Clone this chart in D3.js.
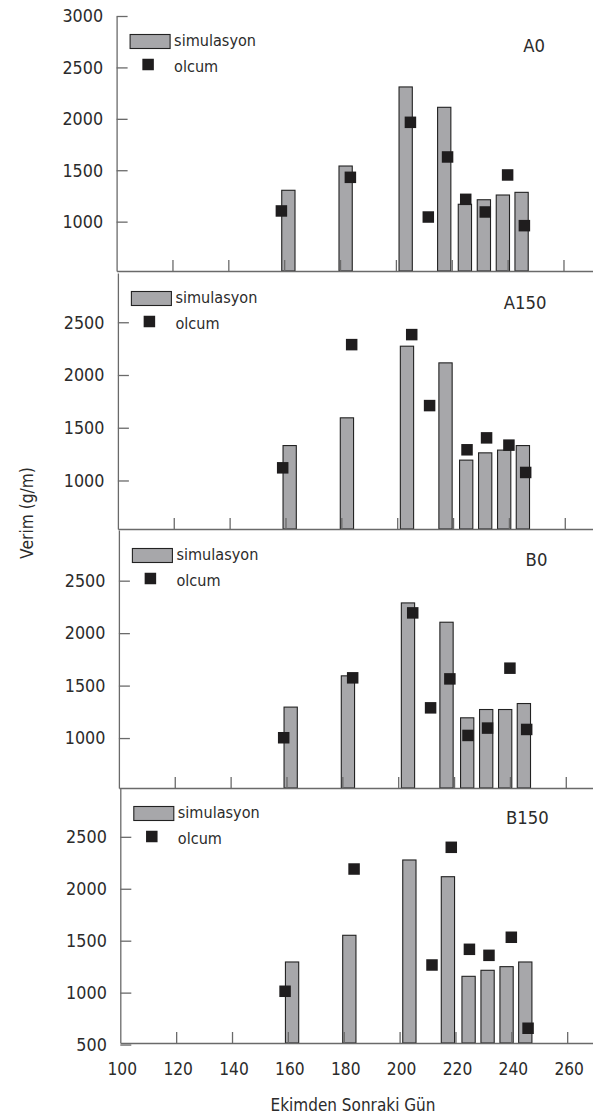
<!DOCTYPE html>
<html><head><meta charset="utf-8">
<script src="https://cdn.jsdelivr.net/npm/d3@7"></script>
<style>body{margin:0;background:#fff} svg{display:block}</style>
</head><body><svg id="c" width="593" height="1118"></svg>
<script>
// ---- data ----
const panelNames = ["A0", "A150", "B0", "B150"];
const xTickValues = [100, 120, 140, 160, 180, 200, 220, 240, 260];
const simDays = [161.5, 182, 203.5, 217.3, 224.7, 231.5, 238.3, 245];
const simA0   = [1305, 1541, 2310, 2112, 1169, 1213, 1259, 1285];
const simA150 = [1331, 1594, 2273, 2115, 1193, 1262, 1288, 1331];
const simB0   = [1295, 1593, 2288, 2104, 1193, 1272, 1272, 1329];
const simB150 = [1295, 1552, 2277, 2116, 1157, 1215, 1250, 1295];
const obsDays = [159, 183.7, 205.2, 211.6, 218.5, 225, 232, 240, 246];
const obsA0   = [1104, 1431, 1966, 1045, 1629, 1217, 1094, 1454, 961];
const obsA150 = [1120, 2288, 2383, 1710, null, 1291, 1404, 1335, 1076];
const obsB0   = [1003, 1574, 2193, 1288, 1564, 1025, 1095, 1666, 1082];
const obsB150 = [1013, 2190, null, 1266, 2399, 1417, 1359, 1533, 657];
const yTicksA0 = [1000, 1500, 2000, 2500, 3000];
const yTicksMid = [1000, 1500, 2000, 2500];
const yTicksB150 = [500, 1000, 1500, 2000, 2500];
const yDomainA0 = [520, 3000];
const yDomainA150 = [540, 2967];
const yDomainB0 = [524, 2983];
const yDomainB150 = [515, 2970];
const legendLabels = ["simulasyon", "olcum"];
const xTitle = "Ekimden Sonraki Gün";
const yTitle = "Verim (g/m)";

const sims = [simA0, simA150, simB0, simB150];
const obss = [obsA0, obsA150, obsB0, obsB150];
const yTickSets = [yTicksA0, yTicksMid, yTicksMid, yTicksB150];
const yDomains = [yDomainA0, yDomainA150, yDomainB0, yDomainB150];

// ---- layout ----
const W = 593;
const layout = [
  {top: 16, bottom: 271, x0: 116.6},
  {top: 273, bottom: 529, x0: 117.9},
  {top: 530, bottom: 788, x0: 118.9},
  {top: 788, bottom: 1043, x0: 120.3}
];
const pxPerDay = 2.793;
const barW = 4.75;
const sq = 11.5;
const axisCol = "#6a6a6a";
const textCol = "#2b2b2b";
const FONT = "DejaVu Sans";

const svg = d3.select("#c");

function txt(g, x, y, s, size, anchor, rot) {
  const t = g.append("text")
    .attr("transform", `translate(${x},${y})` + (rot ? ` rotate(${rot})` : "") + " scale(1,1.12)")
    .attr("text-anchor", anchor)
    .style("font-family", FONT)
    .style("font-size", size + "px")
    .attr("fill", textCol)
    .text(s);
  return t;
}

panelNames.forEach((name, i) => {
  const L = layout[i];
  const xEnd = 100 + (W - L.x0) / pxPerDay;
  const x = d3.scaleLinear().domain([100, xEnd]).range([L.x0, W]);
  const y = d3.scaleLinear().domain(yDomains[i]).range([L.bottom, L.top]);
  const g = svg.append("g");

  // bars
  g.selectAll("rect.bar").data(simDays.map((d, k) => ({d, v: sims[i][k]})))
    .enter().append("rect").attr("class", "bar")
    .attr("x", p => x(p.d - barW / 2))
    .attr("width", p => x(p.d + barW / 2) - x(p.d - barW / 2))
    .attr("y", p => y(p.v))
    .attr("height", p => L.bottom - y(p.v))
    .attr("fill", "#a7a7aa")
    .attr("stroke", "#222")
    .attr("stroke-width", 1.1);

  // y axis (ticks inward)
  const ya = d3.axisRight(y).tickValues(yTickSets[i]).tickSize(11).tickSizeOuter(0).tickFormat("");
  const yg = g.append("g").attr("transform", `translate(${L.x0},0)`).call(ya);
  yg.selectAll("path,line").attr("stroke", axisCol).attr("stroke-width", 1.3);

  // x axis (ticks upward)
  const xa = d3.axisTop(x).tickValues(xTickValues.slice(1)).tickSize(11).tickSizeOuter(0).tickFormat("");
  const xg = g.append("g").attr("transform", `translate(0,${L.bottom})`).call(xa);
  xg.selectAll("path,line").attr("stroke", axisCol).attr("stroke-width", 1.3);

  // observed squares
  g.selectAll("rect.obs").data(obsDays.map((d, k) => ({d, v: obss[i][k]})).filter(p => p.v != null))
    .enter().append("rect").attr("class", "obs")
    .attr("x", p => x(p.d) - sq / 2)
    .attr("y", p => y(p.v) - sq / 2)
    .attr("width", sq).attr("height", sq)
    .attr("fill", "#1f1d1e");

  // y tick labels
  yTickSets[i].forEach(v => txt(g, L.x0 - 13.5, y(v) + 6.3, String(v), 16, "end"));

  // legend
  g.append("rect").attr("x", L.x0 + 13.5).attr("y", L.top + 18.5).attr("width", 40).attr("height", 14)
    .attr("fill", "#a7a7aa").attr("stroke", "#222").attr("stroke-width", 1.1);
  txt(g, L.x0 + 57.5, L.top + 30, legendLabels[0], 14.5, "start");
  g.append("rect").attr("x", L.x0 + 31.5 - sq / 2).attr("y", L.top + 48.5 - sq / 2)
    .attr("width", sq).attr("height", sq).attr("fill", "#1f1d1e");
  txt(g, L.x0 + 57.5, L.top + 55.5, legendLabels[1], 14.5, "start");

  // panel title
  txt(g, L.x0 + 428.5, L.top + 36, name, 16.5, "end");

  // x tick labels on last panel
  if (i === panelNames.length - 1) {
    xTickValues.forEach(v => txt(g, x(v) + 2, 1075, String(v), 15.5, "middle"));
  }
});

txt(svg, 353, 1111, xTitle, 15.3, "middle");
txt(svg, 33, 513, yTitle, 15.5, "middle", -90);
</script>
</body></html>
